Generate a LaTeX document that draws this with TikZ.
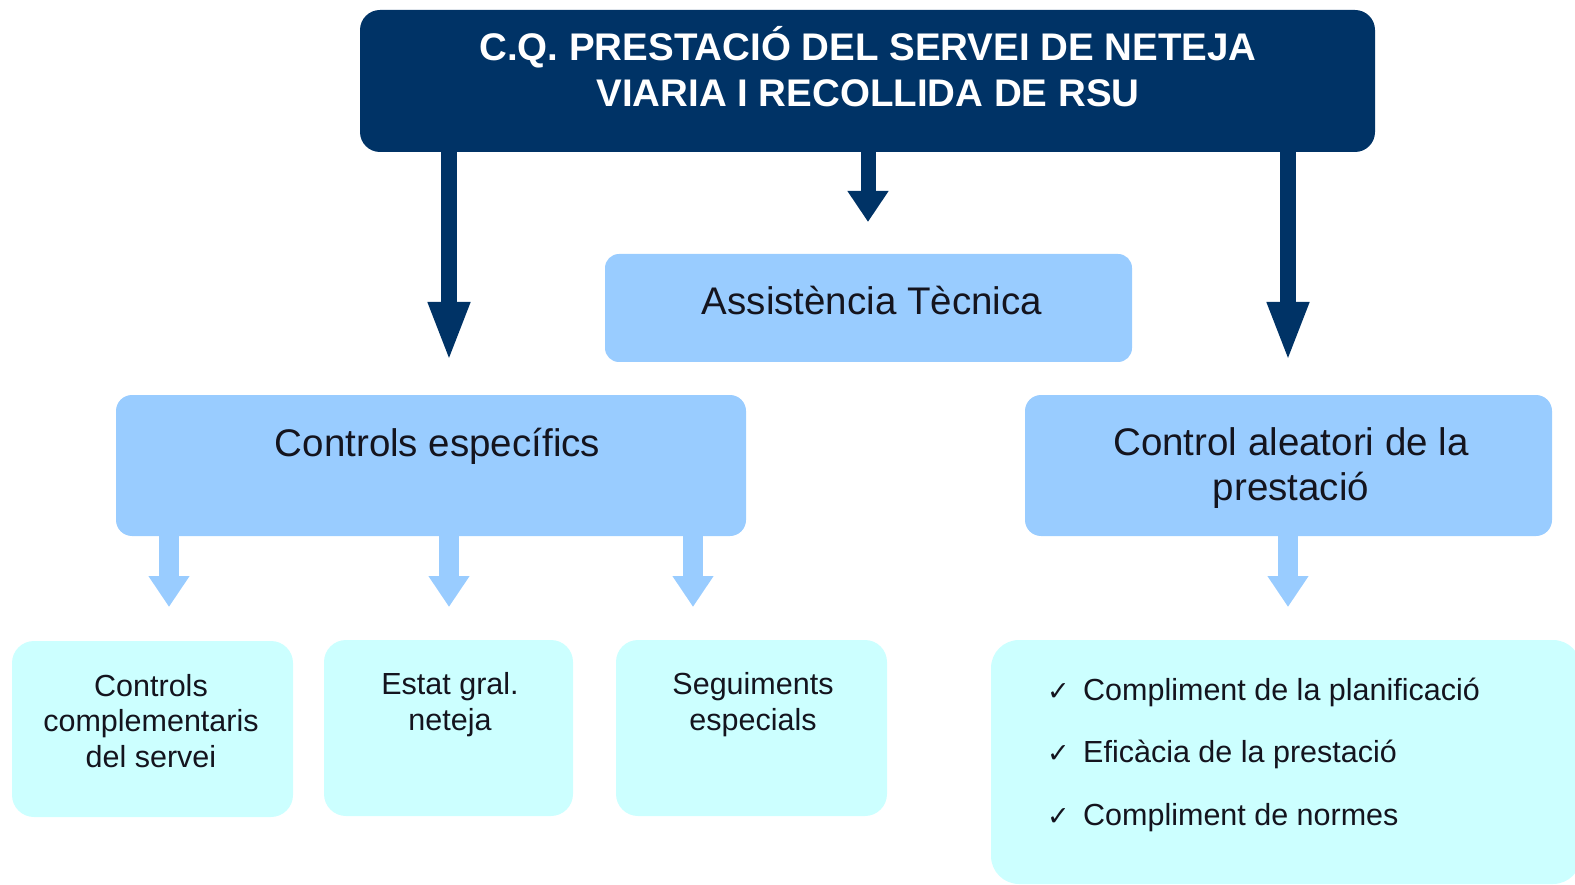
\documentclass[tikz,border=0pt]{standalone}
\usepackage{fontspec}
\setmainfont{Liberation Sans}
\newfontfamily\symfont{DejaVu Sans}
\usetikzlibrary{arrows.meta}
\definecolor{navy}{RGB}{0,51,102}
\definecolor{lblue}{RGB}{153,204,255}
\definecolor{lcyan}{RGB}{204,255,255}
\definecolor{ink}{RGB}{20,20,30}
\begin{document}
\begin{tikzpicture}[x=1pt,y=-1pt,
  box/.style={inner sep=0pt, outer sep=0pt, draw=none},
  topbox/.style={box, fill=navy, rounded corners=20pt},
  midbox/.style={box, fill=lblue, rounded corners=16pt},
  lowbox/.style={box, fill=lcyan, rounded corners=22pt},
  bigtxt/.style={inner sep=0pt, align=center, text=ink, font=\fontsize{38.5}{45}\selectfont, text height=27.6pt, text depth=0pt},
  hdrtxt/.style={inner sep=0pt, align=center, text=white, font=\bfseries\fontsize{38.5}{46}\selectfont, text height=27.6pt, text depth=0pt},
  smltxt/.style={inner sep=0pt, align=center, text=ink, font=\fontsize{30.5}{35.5}\selectfont, text height=21.8pt, text depth=0pt},
  darr/.style={draw=navy, line width=16pt, -{Triangle[width=38pt,length=60pt]}},
  darrs/.style={draw=navy, line width=15pt, -{Triangle[width=39pt,length=31pt]}},
  larr/.style={draw=lblue, line width=20pt, -{Triangle[width=39pt,length=31pt]}}
]
\useasboundingbox (0,0) rectangle (1575,885);

% boxes
\node[topbox, minimum width=1015pt, minimum height=142pt] (top) at (867.5,81) {};
\node[hdrtxt] (toptxt) at (868,93.2) {C.Q. PRESTACIÓ DEL SERVEI DE NETEJA\\VIARIA I RECOLLIDA DE RSU};

\node[midbox, rounded corners=14pt, minimum width=527pt, minimum height=108pt] (at) at (868.5,308) {};
\node[bigtxt] (attxt) at (872,301) {Assistència Tècnica};

\node[midbox, minimum width=630pt, minimum height=141pt] (ce) at (431,465.5) {};
\node[bigtxt] (cetxt) at (437.5,443) {Controls específics};

\node[midbox, minimum width=527pt, minimum height=141pt] (ca) at (1288.5,465.5) {};
\node[bigtxt] (catxt) at (1291,486.2) {Control aleatori de la\\prestació};

\node[lowbox, minimum width=281pt, minimum height=176pt] (b1) at (152.5,729) {};
\node[smltxt] (b1txt) at (151,756.1) {Controls\\complementaris\\del servei};

\node[lowbox, minimum width=249pt, minimum height=176pt] (b2) at (448.5,728) {};
\node[smltxt] (b2txt) at (450,719.1) {Estat gral.\\neteja};

\node[lowbox, minimum width=271pt, minimum height=176pt] (b3) at (751.5,728) {};
\node[smltxt] (b3txt) at (753,719.1) {Seguiments\\especials};

\node[lowbox, rounded corners=28pt, minimum width=590pt, minimum height=244pt] (b4) at (1286,762) {};
\node[inner sep=0pt, anchor=north west, align=left, text=ink,
      font=\fontsize{30.5}{62.5}\selectfont, text height=21.8pt, text depth=0pt] (b4txt) at (1047,803.2)
  {\makebox[36pt][l]{\symfont\fontsize{27}{27}\selectfont ✓}Compliment de la planificació\\
   \makebox[36pt][l]{\symfont\fontsize{27}{27}\selectfont ✓}Eficàcia de la prestació\\
   \makebox[36pt][l]{\symfont\fontsize{27}{27}\selectfont ✓}Compliment de normes};

% arrow x positions
\coordinate (xl) at (449,0);
\coordinate (xm) at (868,0);
\coordinate (xr) at (1288,0);
\coordinate (x1) at (169,0);
\coordinate (x2) at (449,0);
\coordinate (x3) at (693,0);

% dark arrows
\draw[darr, shorten >=33pt] (top.south -| xl) -- (ce.north -| xl);
\draw[darrs, shorten >=32pt] (top.south -| xm) -- (at.north -| xm);
\draw[darr, shorten >=33pt] (top.south -| xr) -- (ca.north -| xr);

% light arrows
\draw[larr, shorten >=34pt] (ce.south -| x1) -- (b1.north -| x1);
\draw[larr, shorten >=33pt] (ce.south -| x2) -- (b2.north -| x2);
\draw[larr, shorten >=33pt] (ce.south -| x3) -- (b3.north -| x3);
\draw[larr, shorten >=33pt] (ca.south -| xr) -- (b4.north -| xr);
\end{tikzpicture}
\end{document}
